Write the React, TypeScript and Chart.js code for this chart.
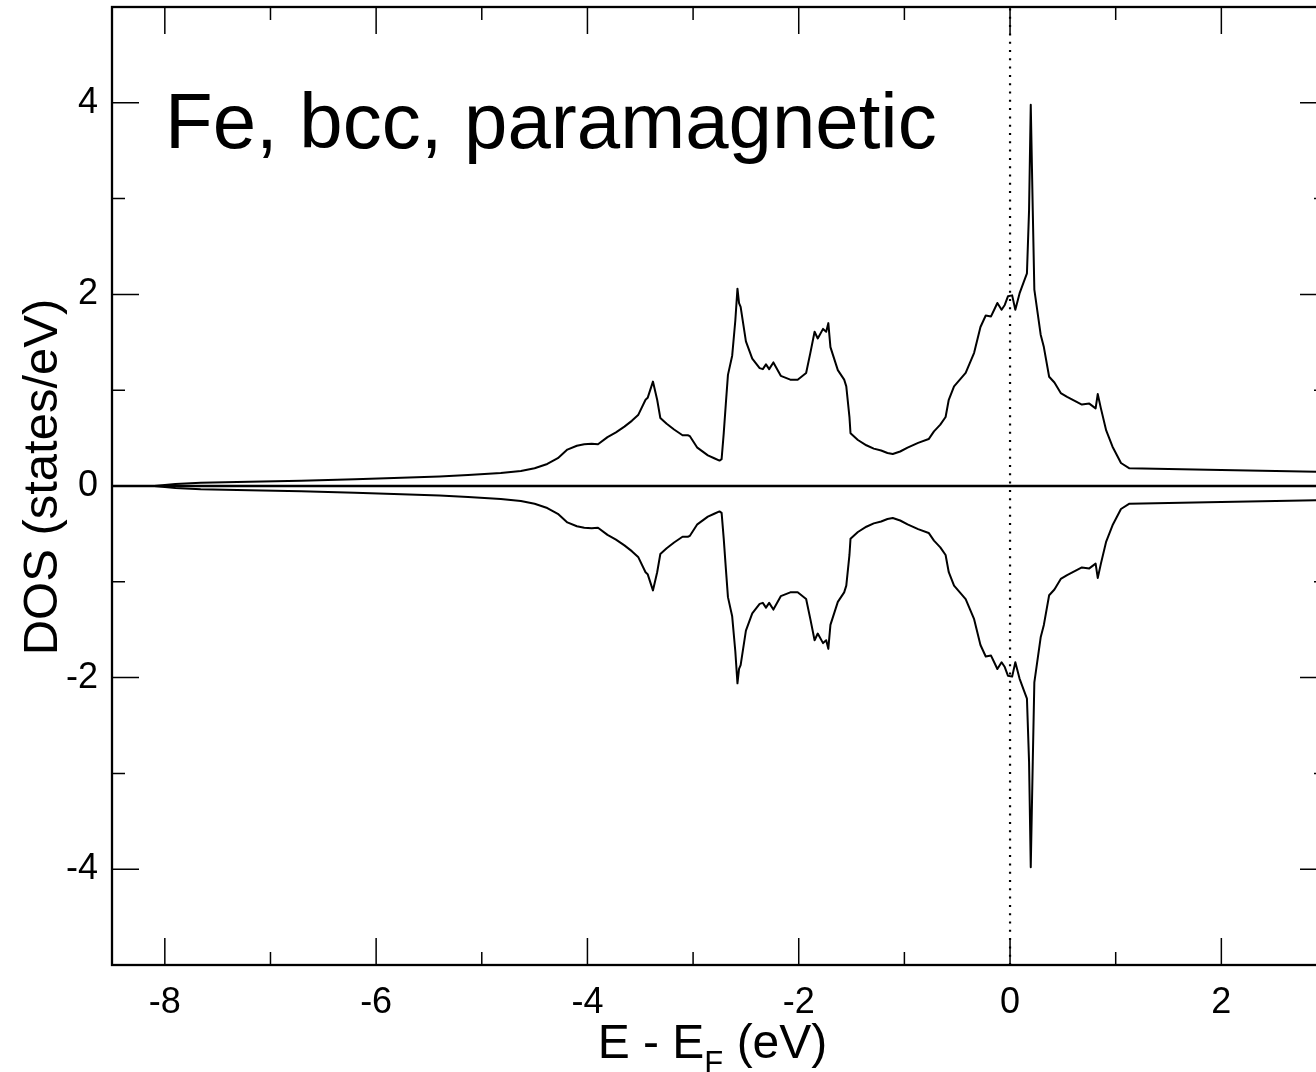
import React, { useEffect, useRef } from "react";
import { Chart, registerables } from "chart.js";

Chart.register(...registerables);

// Energy grid (eV, relative to Fermi level)
const energies = [
  -8.1, -7.9, -7.66, -7.2, -6.71, -6.2, -5.76, -5.4, -5.13, -4.82, -4.63, -4.5, -4.38, -4.28, -4.19,
  -4.1, -4.03, -3.96, -3.9, -3.81, -3.73, -3.65, -3.58, -3.52, -3.45, -3.43, -3.38, -3.34, -3.31,
  -3.25, -3.18, -3.1, -3.05, -3.03, -2.96, -2.86, -2.8, -2.75, -2.73, -2.71, -2.69, -2.67, -2.63,
  -2.6, -2.58, -2.565, -2.55, -2.5, -2.44, -2.37, -2.34, -2.31, -2.28, -2.24, -2.17, -2.08, -2.01,
  -1.93, -1.89, -1.85, -1.82, -1.77, -1.74, -1.72, -1.7, -1.63, -1.57, -1.55, -1.52, -1.51, -1.44,
  -1.36, -1.29, -1.22, -1.16, -1.11, -1.04, -0.97, -0.87, -0.77, -0.72, -0.66, -0.61, -0.58, -0.53,
  -0.42, -0.34, -0.28, -0.23, -0.18,
  -0.15, -0.12, -0.08, -0.05, -0.02, 0.02, 0.05, 0.09, 0.13, 0.16, 0.18, 0.196, 0.215, 0.23, 0.29,
  0.32, 0.37, 0.42, 0.48, 0.54, 0.68, 0.75, 0.81, 0.83, 0.86, 0.91, 0.97, 1.05, 1.13, 1.87, 2.9, 3.0,
];

// Spin-up DOS (states/eV)
const dosUp = [
  0, 0.02, 0.035, 0.045, 0.055, 0.07, 0.087, 0.1, 0.115, 0.135, 0.157, 0.185, 0.23, 0.29, 0.38,
  0.42, 0.435, 0.44, 0.435, 0.51, 0.56, 0.62, 0.68, 0.74, 0.9, 0.92, 1.09, 0.9, 0.71,
  0.65, 0.59, 0.53, 0.53, 0.52, 0.4, 0.32, 0.29, 0.265, 0.28, 0.55, 0.86, 1.16, 1.36,
  1.73, 2.06, 1.91, 1.87, 1.51, 1.33, 1.23, 1.22, 1.27, 1.22, 1.29, 1.15, 1.11, 1.11,
  1.18, 1.39, 1.61, 1.54, 1.64, 1.61, 1.7, 1.45, 1.21, 1.11, 1.04, 0.72, 0.55, 0.48,
  0.425, 0.39, 0.37, 0.345, 0.334, 0.36, 0.4, 0.45, 0.49, 0.57, 0.64, 0.72, 0.9, 1.04,
  1.18, 1.39, 1.66, 1.78, 1.77,
  1.84, 1.91, 1.84, 1.89, 1.98, 1.99, 1.84, 2.01, 2.13, 2.22, 2.88, 3.98, 2.88, 2.05, 1.58,
  1.45, 1.14, 1.08, 0.97, 0.93, 0.85, 0.86, 0.81, 0.96, 0.81, 0.58, 0.41, 0.24, 0.185, 0.17, 0.15, 0.148,
];

// Spin-down DOS (states/eV), plotted negative
const dosDown = [
  -0, -0.02, -0.035, -0.045, -0.055, -0.07, -0.087, -0.1, -0.115, -0.135, -0.157, -0.185, -0.23, -0.29, -0.38,
  -0.42, -0.435, -0.44, -0.435, -0.51, -0.56, -0.62, -0.68, -0.74, -0.9, -0.92, -1.09, -0.9, -0.71,
  -0.65, -0.59, -0.53, -0.53, -0.52, -0.4, -0.32, -0.29, -0.265, -0.28, -0.55, -0.86, -1.16, -1.36,
  -1.73, -2.06, -1.91, -1.87, -1.51, -1.33, -1.23, -1.22, -1.27, -1.22, -1.29, -1.15, -1.11, -1.11,
  -1.18, -1.39, -1.61, -1.54, -1.64, -1.61, -1.7, -1.45, -1.21, -1.11, -1.04, -0.72, -0.55, -0.48,
  -0.425, -0.39, -0.37, -0.345, -0.334, -0.36, -0.4, -0.45, -0.49, -0.57, -0.64, -0.72, -0.9, -1.04,
  -1.18, -1.39, -1.66, -1.78, -1.77,
  -1.84, -1.91, -1.84, -1.89, -1.98, -1.99, -1.84, -2.01, -2.13, -2.22, -2.88, -3.98, -2.88, -2.05, -1.58,
  -1.45, -1.14, -1.08, -0.97, -0.93, -0.85, -0.86, -0.81, -0.96, -0.81, -0.58, -0.41, -0.24, -0.185, -0.17, -0.15, -0.148,
];

const xRange = [-8.5, 3];
const yRange = [-5, 5];
const xMajorTicks = [-8, -6, -4, -2, 0, 2];
const xMinorTicks = [-7, -5, -3, -1, 1, 3];
const yMajorTicks = [-4, -2, 0, 2, 4];
const yMinorTicks = [-5, -3, -1, 1, 3, 5];
const fermiLevel = 0;
const zeroLevel = 0;

const chartTitle = "Fe, bcc, paramagnetic";
const yTitle = "DOS (states/eV)";
const xTitleMain = "E - E";
const xTitleSub = "F";
const xTitleEnd = " (eV)";

const FONT = "'Liberation Sans', Arial, Helvetica, sans-serif";

const framePlugin = {
  id: "frameTicks",
  afterDatasetsDraw(chart: any) {
    const { ctx, chartArea, scales } = chart;
    const { left, right, top, bottom } = chartArea;
    ctx.save();
    ctx.strokeStyle = "#000";
    ctx.lineWidth = 1.5;
    const drawX = (vals: number[], len: number) => {
      vals.forEach((v) => {
        const px = scales.x.getPixelForValue(v);
        ctx.beginPath();
        ctx.moveTo(px, bottom);
        ctx.lineTo(px, bottom - len);
        ctx.moveTo(px, top);
        ctx.lineTo(px, top + len);
        ctx.stroke();
      });
    };
    const drawY = (vals: number[], len: number) => {
      vals.forEach((v) => {
        const py = scales.y.getPixelForValue(v);
        ctx.beginPath();
        ctx.moveTo(left, py);
        ctx.lineTo(left + len, py);
        ctx.moveTo(right, py);
        ctx.lineTo(right - len, py);
        ctx.stroke();
      });
    };
    drawX(xMajorTicks, 27);
    drawX(xMinorTicks, 13);
    drawY(yMajorTicks, 27);
    drawY(yMinorTicks, 13);
    ctx.lineWidth = 2.3;
    ctx.strokeRect(left, top, right - left, bottom - top);
    ctx.restore();
  },
  afterDraw(chart: any) {
    const { ctx, chartArea } = chart;
    ctx.save();
    ctx.fillStyle = "#000";
    ctx.textBaseline = "alphabetic";
    ctx.textAlign = "left";
    // label inside the plot
    ctx.font = `78px ${FONT}`;
    ctx.fillText(chartTitle, 165, 148);
    // x axis title with subscript
    const mainFont = `48px ${FONT}`;
    const subFont = `31px ${FONT}`;
    ctx.font = mainFont;
    const w1 = ctx.measureText(xTitleMain).width;
    const w3 = ctx.measureText(xTitleEnd).width;
    ctx.font = subFont;
    const w2 = ctx.measureText(xTitleSub).width;
    const total = w1 + w2 + w3;
    const cx = (chartArea.left + chartArea.right) / 2 - 7;
    let x = cx - total / 2;
    const base = 1058;
    ctx.font = mainFont;
    ctx.fillText(xTitleMain, x, base);
    x += w1;
    ctx.font = subFont;
    ctx.fillText(xTitleSub, x, base + 15);
    x += w2;
    ctx.font = mainFont;
    ctx.fillText(xTitleEnd, x, base);
    // y axis title (rotated)
    ctx.translate(57, 477);
    ctx.rotate(-Math.PI / 2);
    ctx.textAlign = "center";
    ctx.font = `49px ${FONT}`;
    ctx.fillText(yTitle, 0, 0);
    ctx.restore();
  },
};

export default function App() {
  const canvasRef = useRef<HTMLCanvasElement | null>(null);

  useEffect(() => {
    const canvas = canvasRef.current;
    if (!canvas) return;
    const upPoints = energies.map((e, i) => ({ x: e, y: dosUp[i] }));
    const downPoints = energies.map((e, i) => ({ x: e, y: dosDown[i] }));
    const chart = new Chart(canvas, {
      type: "line",
      data: {
        datasets: [
          {
            label: "zero",
            data: [
              { x: xRange[0], y: zeroLevel },
              { x: xRange[1], y: zeroLevel },
            ],
            borderColor: "#000",
            borderWidth: 2.4,
            pointRadius: 0,
          },
          {
            label: "Fermi level",
            data: [
              { x: fermiLevel, y: yRange[0] },
              { x: fermiLevel, y: yRange[1] },
            ],
            borderColor: "#000",
            borderWidth: 2.2,
            borderDash: [2, 6.3],
            pointRadius: 0,
          },
          {
            label: "spin up",
            data: upPoints,
            borderColor: "#000",
            borderWidth: 2,
            pointRadius: 0,
            tension: 0,
            borderJoinStyle: "round",
          },
          {
            label: "spin down",
            data: downPoints,
            borderColor: "#000",
            borderWidth: 2,
            pointRadius: 0,
            tension: 0,
            borderJoinStyle: "round",
          },
        ],
      },
      options: {
        animation: false,
        responsive: false,
        devicePixelRatio: 1,
        layout: { padding: { top: 7, right: 13, left: 0, bottom: 0 } },
        plugins: {
          legend: { display: false },
          tooltip: { enabled: false },
          title: { display: false },
        },
        scales: {
          x: {
            type: "linear",
            min: xRange[0],
            max: xRange[1],
            grid: { display: false, drawTicks: false },
            border: { display: false },
            afterBuildTicks: (scale: any) => {
              scale.ticks = xMajorTicks.map((v) => ({ value: v }));
            },
            afterFit: (scale: any) => {
              scale.height = 107;
              scale.paddingLeft = 0;
              scale.paddingRight = 0;
            },
            ticks: {
              color: "#000",
              font: { family: FONT, size: 36 },
              padding: 16,
              maxRotation: 0,
              autoSkip: false,
              callback: (v: any) => String(v),
            },
          },
          y: {
            type: "linear",
            min: yRange[0],
            max: yRange[1],
            grid: { display: false, drawTicks: false },
            border: { display: false },
            afterBuildTicks: (scale: any) => {
              scale.ticks = yMajorTicks.map((v) => ({ value: v }));
            },
            afterFit: (scale: any) => {
              scale.width = 112;
              scale.paddingTop = 0;
              scale.paddingBottom = 0;
            },
            ticks: {
              color: "#000",
              font: { family: FONT, size: 36 },
              padding: 14,
              autoSkip: false,
              callback: (v: any) => String(v),
            },
          },
        },
      },
      plugins: [framePlugin],
    });
    return () => chart.destroy();
  }, []);

  return (
    <div
      style={{
        position: "fixed",
        left: 0,
        top: 0,
        width: 1316,
        height: 1072,
        overflow: "hidden",
        background: "#fff",
      }}
    >
      <canvas
        ref={canvasRef}
        width={1340}
        height={1072}
        style={{ display: "block", width: 1340, height: 1072 }}
      />
    </div>
  );
}
